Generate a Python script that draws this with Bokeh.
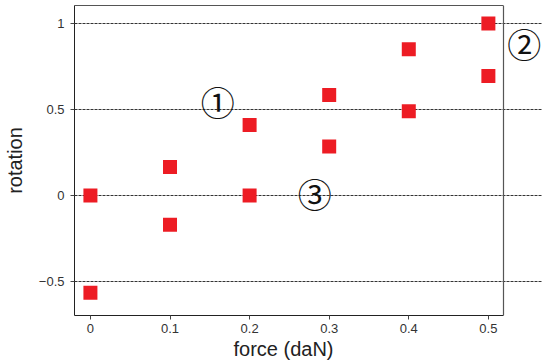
from bokeh.plotting import figure
from bokeh.models import FixedTicker, Range1d, Label, Title, LinearAxis
from bokeh.embed import file_html
from bokeh.resources import INLINE

force = [0, 0.1, 0.2, 0.3, 0.4, 0.5]
rot_upper = [0.0, 0.165, 0.41, 0.585, 0.85, 1.0]
rot_lower = [-0.565, -0.17, 0.0, 0.285, 0.49, 0.695]
x_ticks = [0, 0.1, 0.2, 0.3, 0.4, 0.5]
y_ticks = [-0.5, 0, 0.5, 1]
y_tick_labels = ["\u22120.5", "0", "0.5", "1"]
notes = ["\u2460", "\u2461", "\u2462"]
note_x = [0.16, 0.545, 0.282]
note_y = [0.545, 0.885, 0.01]

# plot box in data units (the frame extends further right to leave room for note 2)
box_x = (-0.02, 0.519)
box_y = (-0.698, 1.105)

p = figure(width=542, height=360, output_backend="svg", toolbar_location=None,
           x_range=Range1d(box_x[0], 0.568), y_range=Range1d(box_y[0], box_y[1]),
           min_border_left=10, min_border_right=0, min_border_top=5, min_border_bottom=4)
p.background_fill_color = "white"
p.border_fill_color = "white"
p.outline_line_color = None

p.scatter(force, rot_upper, marker="square", size=14, fill_color="#ED1C24", line_color=None)
p.scatter(force, rot_lower, marker="square", size=14, fill_color="#ED1C24", line_color=None)

p.xaxis.ticker = FixedTicker(ticks=x_ticks)
p.yaxis.ticker = FixedTicker(ticks=y_ticks)
p.xaxis.bounds = box_x
p.yaxis.bounds = box_y
p.xaxis.major_label_overrides = {t: str(t) for t in x_ticks}
p.yaxis.major_label_overrides = dict(zip(y_ticks, y_tick_labels))
for ax in (p.xaxis, p.yaxis):
    ax.minor_tick_line_color = None
    ax.major_tick_in = 0
    ax.major_tick_out = 4
    ax.axis_line_color = "#222222"
    ax.major_tick_line_color = "#444444"
    ax.major_label_text_font = "Liberation Sans"
    ax.major_label_text_font_size = "13px"
    ax.major_label_text_color = "#333333"
    ax.axis_label_text_font = "Liberation Sans"
    ax.axis_label_text_font_size = "20px"
    ax.axis_label_text_font_style = "normal"
    ax.axis_label_text_color = "#222222"
p.yaxis.axis_label = "rotation"
p.yaxis.axis_label_standoff = 10
p.xaxis.major_label_standoff = 4
p.yaxis.major_label_standoff = 6

# top edge of the plot box as a bare axis line
top = LinearAxis(ticker=FixedTicker(ticks=[]), bounds=box_x, axis_line_color="#555555",
                 major_tick_out=0, major_tick_in=0, major_label_standoff=0,
                 minor_tick_line_color=None, major_tick_line_color=None)
p.add_layout(top, "above")

# x-axis title centred under the plot box rather than the whole frame
p.add_layout(Title(text="force (daN)", align="left", offset=159, standoff=1,
                   text_font="Liberation Sans", text_font_size="20px",
                   text_font_style="normal", text_color="#222222"), "below")

p.xgrid.grid_line_color = None
p.ygrid.ticker = FixedTicker(ticks=y_ticks)
p.ygrid.bounds = box_x
p.ygrid.grid_line_color = "#333333"
p.ygrid.grid_line_dash = "3 1"
p.ygrid.grid_line_width = 1

# right edge of the plot box
p.segment(x0=[box_x[1]], y0=[box_y[0]], x1=[box_x[1]], y1=[box_y[1]],
          line_color="#555555", line_width=1.2)

for t, x, y in zip(notes, note_x, note_y):
    p.add_layout(Label(x=x, y=y, text=t, text_font="Noto Sans CJK JP", text_font_size="34px",
                       text_align="center", text_baseline="middle", text_color="#111111"))

open("out.html", "w").write(file_html(p, INLINE))
